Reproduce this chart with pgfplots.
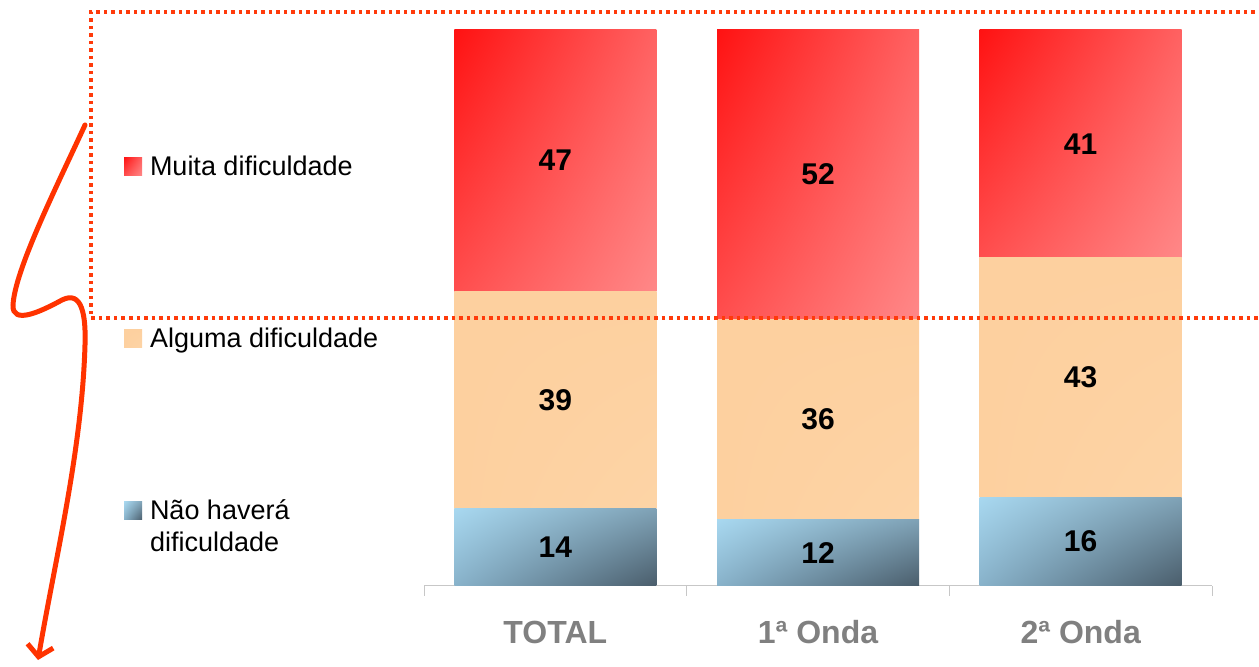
\documentclass[border=0pt]{standalone}
\usepackage{pgfplots}
\pgfplotsset{compat=1.18}
\usepackage{fontspec}
\setmainfont{Liberation Sans}
\usetikzlibrary{arrows.meta,shadings}
\definecolor{redA}{HTML}{FF1212}
\definecolor{redB}{HTML}{FF6262}
\definecolor{redC}{HTML}{FF4E4E}
\definecolor{redD}{HTML}{FF8888}
\definecolor{peach}{HTML}{FDD09F}
\definecolor{peachB}{HTML}{FDD4A6}
\definecolor{blueA}{HTML}{A8D8F0}
\definecolor{blueB}{HTML}{7FA2B6}
\definecolor{blueC}{HTML}{88B2CA}
\definecolor{blueD}{HTML}{4A5D6B}
\definecolor{markred}{HTML}{FF3A0A}
\definecolor{arrowred}{HTML}{FF3300}
\definecolor{tickgray}{HTML}{808080}
\pgfplotsset{
  common/.style={
    scale only axis, width=788pt, height=556pt,
    at={(424pt,81pt)}, anchor=south west,
    xmin=-0.5, xmax=2.5, ymin=0, ymax=100,
  },
  bars/.style={common, ybar stacked, bar width=202pt},
  blueS/.style={draw=none, upper left=blueA, upper right=blueB, lower left=blueC, lower right=blueD},
  peachS/.style={draw=none, upper left=peach, upper right=peach, lower left=peach, lower right=peachB},
  redS/.style={draw=none, upper left=redA, upper right=redB, lower left=redC, lower right=redD},
}
\begin{document}
\begin{tikzpicture}
\path[use as bounding box] (0,0) rectangle (1259pt,667pt);
% TOTAL (with axis line, ticks and legend)
\begin{axis}[bars,
  axis x line*=bottom, axis y line=none,
  x axis line style={draw=black!22, line width=1pt},
  xtick={0,1,2}, xticklabels={TOTAL,1ª Onda,2ª Onda},
  major tick length=0pt,
  minor xtick={-0.5,0.5,1.5,2.5},
  minor x tick style={draw=black!22, line width=1pt},
  minor tick length=10pt, xtick align=outside,
  xticklabel style={font=\fontsize{32}{36}\selectfont\bfseries, text=tickgray, anchor=base, yshift=-57pt},
  ytick=\empty,
  reverse legend,
  legend cell align=left,
  legend style={draw=none, fill=none, inner sep=0pt, outer sep=0pt,
    at={(axis description cs:-0.3807,0.7734)}, anchor=north west,
    row sep=151pt, font=\fontsize{27}{32}\selectfont,
    nodes={inner sep=0pt},
    /tikz/every odd column/.append style={column sep=8pt}},
  legend image code/.code={\path[#1] (0pt,-9pt) rectangle (18pt,9pt);},
]
\addplot[blueS] coordinates {(0,14)};
\addlegendentry{\raisebox{0pt}[\height][0pt]{\vtop{\hbox{Não haverá}\hbox{dificuldade}}}}
\addplot[peachS] coordinates {(0,39)};
\addlegendentry{Alguma dificuldade}
\addplot[redS] coordinates {(0,47)};
\addlegendentry{Muita dificuldade}
\end{axis}
% 1a Onda
\begin{axis}[bars, hide axis]
\addplot[blueS] coordinates {(1,12)};
\addplot[peachS] coordinates {(1,36)};
\addplot[redS] coordinates {(1,52)};
\end{axis}
% 2a Onda
\begin{axis}[bars, hide axis]
\addplot[blueS] coordinates {(2,16)};
\addplot[peachS] coordinates {(2,43)};
\addplot[redS] coordinates {(2,41)};
\end{axis}
% value labels
\begin{axis}[common, hide axis]
\addplot[only marks, mark=none, nodes near coords, point meta=explicit symbolic,
  nodes near coords align=center,
  every node near coord/.append style={font=\fontsize{30}{30}\selectfont\bfseries, text=black, anchor=center}]
coordinates {(0,7)[14] (0,33.5)[39] (0,76.5)[47] (1,6)[12] (1,30)[36] (1,74)[52] (2,8)[16] (2,37.5)[43] (2,79.5)[41]};
\end{axis}
\begin{scope}[x=1pt, y=-1pt, yshift=667pt]
  \draw[markred, line width=3.5pt, dash pattern=on 3.5pt off 4pt]
    (1262,12) -- (91,12) -- (91,318) -- (1262,318);
  \draw[arrowred, line width=5pt, line cap=round, -{Straight Barb[length=11pt, width=26pt, line width=5pt]}]
    (85,125) .. controls (55,190) and (15,270) .. (13,305)
    .. controls (12,325) and (40,312) .. (62,300)
    .. controls (82,290) and (86,315) .. (85,345)
    .. controls (82,450) and (55,560) .. (38,660);
\end{scope}
\end{tikzpicture}
\end{document}
